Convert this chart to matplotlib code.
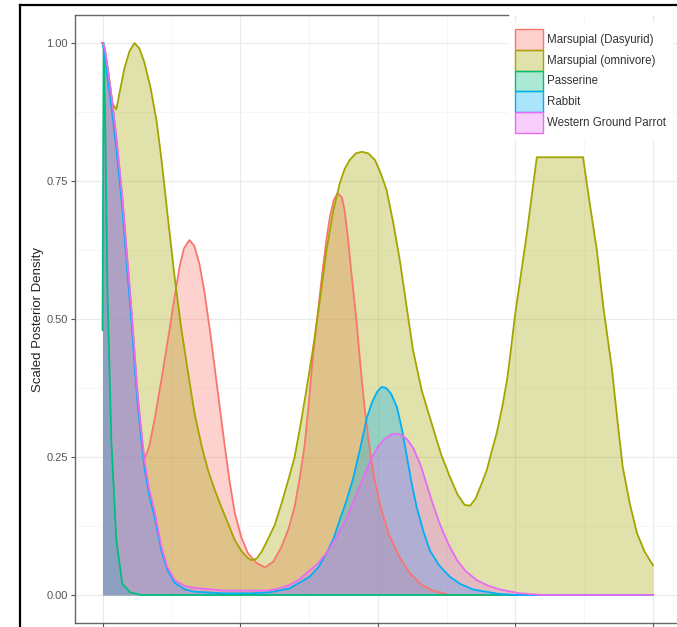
import numpy as np
import matplotlib
matplotlib.use('Agg')
import matplotlib.pyplot as plt
import matplotlib.patches as mpatches
from matplotlib.lines import Line2D

plt.rcParams['font.family'] = ['Liberation Sans', 'DejaVu Sans']

# ── data (x scaled 0..1) ─────────────────────────────────────────────────
species = ['Marsupial (Dasyurid)', 'Marsupial (omnivore)', 'Passerine',
           'Rabbit', 'Western Ground Parrot']
colors = ['#F8766D', '#A3A500', '#00BF7D', '#00B0F6', '#E76BF3']

dasyurid_x = [0, 0.004, 0.01, 0.018, 0.025, 0.031, 0.036, 0.044, 0.053, 0.058,
              0.064, 0.07, 0.076, 0.085, 0.095,
              0.107, 0.12, 0.131, 0.14, 0.148, 0.158, 0.167, 0.176, 0.185,
              0.195, 0.204, 0.213, 0.222, 0.231, 0.24, 0.252, 0.264, 0.28,
              0.295, 0.31, 0.325, 0.338, 0.349, 0.358, 0.367, 0.375, 0.382,
              0.391, 0.4, 0.407, 0.413, 0.42, 0.427, 0.435, 0.44, 0.446,
              0.453, 0.462, 0.469, 0.476, 0.484, 0.493, 0.505, 0.52, 0.54,
              0.558, 0.58, 0.6, 0.63, 1.0]
dasyurid_y = [1.0, 0.99, 0.95, 0.89, 0.83, 0.77, 0.72, 0.62, 0.51, 0.44,
              0.36, 0.3, 0.245, 0.27, 0.32,
              0.39, 0.47, 0.54, 0.595, 0.628, 0.643, 0.632, 0.6, 0.55,
              0.48, 0.41, 0.34, 0.27, 0.205, 0.15, 0.105, 0.076, 0.058,
              0.05, 0.06, 0.087, 0.12, 0.16, 0.21, 0.27, 0.35, 0.43,
              0.51, 0.59, 0.645, 0.685, 0.715, 0.728, 0.72, 0.695, 0.645,
              0.575, 0.49, 0.41, 0.34, 0.275, 0.215, 0.16, 0.11, 0.068,
              0.04, 0.018, 0.008, 0.0, 0.0]

omnivore_x = [0, 0.004, 0.01, 0.018, 0.025, 0.032, 0.04, 0.049, 0.058, 0.067,
              0.076, 0.087, 0.098, 0.107, 0.118, 0.131, 0.142, 0.155, 0.167,
              0.18, 0.192, 0.204, 0.216, 0.228, 0.24, 0.252, 0.264, 0.271,
              0.28, 0.29, 0.3, 0.313, 0.325, 0.338, 0.349, 0.36, 0.371,
              0.382, 0.395, 0.407, 0.419, 0.431, 0.44, 0.449, 0.46, 0.471,
              0.483, 0.495, 0.505, 0.516, 0.528, 0.54, 0.552, 0.564, 0.58,
              0.6, 0.615, 0.631, 0.645, 0.658, 0.668, 0.678, 0.688, 0.698,
              0.707, 0.716, 0.726, 0.735, 0.742, 0.749, 0.76, 0.771, 0.78,
              0.789, 0.873, 0.885, 0.898, 0.91, 0.925, 0.935, 0.945, 0.958,
              0.971, 0.985, 1.0]
omnivore_y = [1.0, 0.99, 0.95, 0.89, 0.88, 0.915, 0.955, 0.985, 1.0, 0.99,
              0.965, 0.92, 0.86, 0.79, 0.69, 0.576, 0.49, 0.405, 0.33,
              0.27, 0.225, 0.19, 0.159, 0.13, 0.1, 0.08, 0.067, 0.063,
              0.066, 0.08, 0.1, 0.127, 0.165, 0.21, 0.25, 0.31, 0.375,
              0.444, 0.535, 0.625, 0.695, 0.746, 0.772, 0.788, 0.8, 0.803,
              0.8, 0.788, 0.765, 0.734, 0.675, 0.607, 0.525, 0.444, 0.37,
              0.304, 0.255, 0.214, 0.182, 0.163, 0.162, 0.175, 0.2, 0.226,
              0.26, 0.293, 0.34, 0.39, 0.445, 0.504, 0.58, 0.656, 0.725,
              0.793, 0.793, 0.71, 0.625, 0.52, 0.413, 0.32, 0.232, 0.165,
              0.112, 0.078, 0.054]

passerine_x = [0, 0.002, 0.005, 0.009, 0.016, 0.025, 0.036, 0.05, 0.07, 1.0]
passerine_y = [0.48, 1.0, 0.85, 0.55, 0.28, 0.1, 0.02, 0.005, 0.0, 0.0]

rabbit_x = [0, 0.004, 0.01, 0.018, 0.025, 0.031, 0.036, 0.044, 0.053, 0.058,
            0.064, 0.07, 0.076, 0.085, 0.095, 0.107, 0.118, 0.131, 0.15,
            0.167, 0.22, 0.27, 0.304, 0.34, 0.376, 0.392, 0.407, 0.42,
            0.431, 0.443, 0.455, 0.468, 0.48, 0.49, 0.499, 0.507, 0.515,
            0.524, 0.535, 0.544, 0.553, 0.562, 0.571, 0.583, 0.595, 0.612,
            0.631, 0.65, 0.673, 0.72, 0.75, 1.0]
rabbit_y = [1.0, 0.98, 0.93, 0.87, 0.81, 0.75, 0.7, 0.6, 0.49, 0.42,
            0.345, 0.285, 0.232, 0.18, 0.14, 0.08, 0.045, 0.022, 0.01,
            0.006, 0.003, 0.003, 0.005, 0.012, 0.033, 0.05, 0.076, 0.103,
            0.136, 0.17, 0.21, 0.265, 0.32, 0.35, 0.368, 0.377, 0.375,
            0.365, 0.34, 0.3, 0.25, 0.2, 0.158, 0.115, 0.08, 0.053,
            0.033, 0.02, 0.01, 0.002, 0.0, 0.0]

parrot_x = [0, 0.004, 0.01, 0.018, 0.025, 0.031, 0.036, 0.044, 0.053, 0.058,
            0.064, 0.07, 0.076, 0.085, 0.095, 0.107, 0.118, 0.131, 0.15,
            0.167, 0.22, 0.3, 0.32, 0.34, 0.356, 0.371, 0.39, 0.407, 0.425,
            0.444, 0.458, 0.473, 0.487, 0.5, 0.513, 0.525, 0.535, 0.545,
            0.555, 0.565, 0.578, 0.589, 0.6, 0.613, 0.628, 0.644, 0.66,
            0.68, 0.7, 0.722, 0.758, 0.8, 1.0]
parrot_y = [1.0, 0.99, 0.95, 0.89, 0.83, 0.77, 0.72, 0.62, 0.51, 0.44,
            0.36, 0.3, 0.245, 0.19, 0.15, 0.087, 0.05, 0.027, 0.016,
            0.013, 0.008, 0.008, 0.012, 0.018, 0.027, 0.04, 0.056, 0.076,
            0.105, 0.14, 0.175, 0.21, 0.245, 0.268, 0.283, 0.291, 0.292,
            0.289, 0.28, 0.265, 0.235, 0.2, 0.165, 0.128, 0.093, 0.063,
            0.043, 0.027, 0.017, 0.01, 0.003, 0.0, 0.0]

series = [(dasyurid_x, dasyurid_y), (omnivore_x, omnivore_y),
          (passerine_x, passerine_y), (rabbit_x, rabbit_y),
          (parrot_x, parrot_y)]

# ── figure ───────────────────────────────────────────────────────────────
W, H = 677, 627
fig = plt.figure(figsize=(W/100, H/100), dpi=100)
ax = fig.add_axes([75/W, (H-622.6)/H, 605.5/W, 607.2/H])

for (xs, ys), c in zip(series, colors):
    ax.fill_between(xs, ys, 0, color=c, alpha=0.33, lw=0)
    ax.plot(xs, ys, color=c, lw=1.3, solid_joinstyle='round')

ax.set_xlim(-0.05, 1.05)
ax.set_ylim(-0.05, 1.05)

ax.set_xticks(np.arange(0, 1.01, 0.25))
ax.set_xticks(np.arange(0.125, 1.0, 0.25), minor=True)
ax.set_xticklabels([])
ax.set_yticks(np.arange(0, 1.01, 0.25))
ax.set_yticks(np.arange(0.125, 1.0, 0.25), minor=True)
ax.set_yticklabels(['0.00', '0.25', '0.50', '0.75', '1.00'])
ax.tick_params(axis='both', which='major', direction='out', length=3,
               width=0.8, color='#555555', labelsize=8, labelcolor='#555555',
               pad=2)
ax.tick_params(axis='both', which='minor', length=0)

ax.grid(which='major', color='#EBEBEB', lw=0.9)
ax.grid(which='minor', color='#F3F3F3', lw=0.5)
ax.set_axisbelow(True)

for s in ax.spines.values():
    s.set_color('#666666')
    s.set_linewidth(1.0)
ax.spines['top'].set_bounds(-0.05, 0.736)

ax.set_ylabel('Scaled Posterior Density', fontsize=9.5, color='#222222')
ax.yaxis.set_label_coords((44-75)/605.5, 0.5)

handles = [mpatches.Patch(facecolor=matplotlib.colors.to_rgba(c, 0.33),
                          edgecolor=c, lw=1.0, label=n)
           for n, c in zip(species, colors)]
leg = ax.legend(handles=handles, loc='upper left',
                bbox_to_anchor=(508/W, (H-22)/H), bbox_transform=fig.transFigure,
                fontsize=8.3, frameon=True, framealpha=1, edgecolor='none',
                handlelength=2.4, handleheight=2.4, labelspacing=0.0,
                handletextpad=0.35, borderpad=0.6, borderaxespad=0)
for t in leg.get_texts():
    t.set_color('#333333')

# screenshot frame
fig.add_artist(Line2D([20/W, 20/W], [0, (H-5)/H], color='black', lw=1.6))
fig.add_artist(Line2D([20/W, 1], [(H-5)/H, (H-5)/H], color='black', lw=1.6))

fig.savefig('out.png', dpi=100)
